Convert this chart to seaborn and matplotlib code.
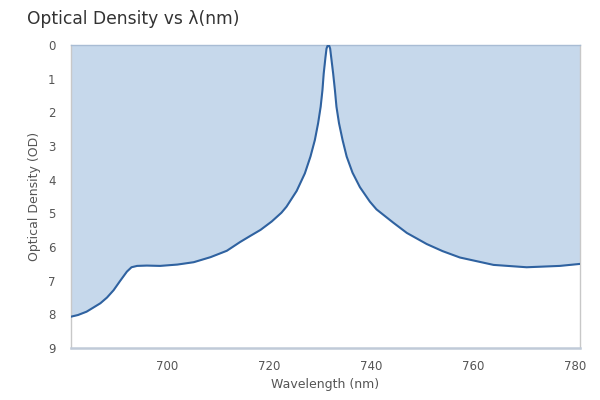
import matplotlib
matplotlib.use("Agg")
import matplotlib.pyplot as plt
import seaborn as sns
import pandas as pd

wavelength = [681.1, 682.5, 684.2, 685.5, 686.9, 688.2, 689.5, 690.8, 692.1, 693.0,
              694.1, 696.0, 698.6, 702.0, 705.2, 708.5, 711.7, 714.3, 716.5, 718.3,
              720.5, 722.4, 723.4, 725.4, 727.0, 728.1, 728.96, 729.6, 730.1, 730.45,
              730.7, 731.05, 731.25, 731.45, 731.6, 731.78, 731.96, 732.16, 732.55, 732.9,
              733.2, 733.7, 734.4, 735.2, 736.35, 737.8, 739.75, 741.05, 744.3, 747.0,
              750.9, 754.0, 757.4, 764.0, 770.5, 777.0, 781.0]
optical_density = [8.07, 8.02, 7.92, 7.80, 7.67, 7.50, 7.28, 7.00, 6.73, 6.60,
                   6.56, 6.55, 6.56, 6.52, 6.45, 6.30, 6.11, 5.85, 5.65, 5.49,
                   5.24, 4.98, 4.80, 4.33, 3.81, 3.31, 2.82, 2.32, 1.83, 1.34,
                   0.84, 0.35, 0.10, 0.02, 0.0, 0.02, 0.10, 0.35, 0.84, 1.34,
                   1.83, 2.32, 2.82, 3.31, 3.79, 4.22, 4.65, 4.88, 5.27, 5.58,
                   5.91, 6.12, 6.31, 6.53, 6.60, 6.56, 6.50]
x_ticks = [700, 720, 740, 760, 780]
y_ticks = [0, 1, 2, 3, 4, 5, 6, 7, 8, 9]

df = pd.DataFrame({"Wavelength (nm)": wavelength, "Optical Density (OD)": optical_density})

sns.set_theme(style="white")
plt.rcParams['font.family'] = ['DejaVu Sans']

fig = plt.figure(figsize=(6, 4), dpi=100)
ax = fig.add_axes([0.118, 0.13, 0.849, 0.757])

ax.fill_between(df["Wavelength (nm)"], 0, df["Optical Density (OD)"],
                color="#c6d8eb", linewidth=0, zorder=1)
sns.lineplot(data=df, x="Wavelength (nm)", y="Optical Density (OD)", ax=ax,
             color="#2f62a0", linewidth=1.5, zorder=3)

ax.set_xlim(681.1, 781)
ax.set_ylim(9, 0)
ax.set_xticks(x_ticks)
ax.set_yticks(y_ticks)

tick_col = "#c0c0c0"
ax.tick_params(axis="both", which="major", direction="out", length=8, width=1,
               color=tick_col, labelsize=8.5, labelcolor="#555555", pad=3)
ax.tick_params(axis="x", length=7, pad=2)

for side in ["left", "top", "right"]:
    ax.spines[side].set_color("#c8c8c8")
    ax.spines[side].set_linewidth(1)
ax.spines["bottom"].set_color("#c0cad8")
ax.spines["bottom"].set_linewidth(1.8)
ax.spines["top"].set_color("#a8bcd4")

ax.set_xlabel("Wavelength (nm)", fontsize=9, color="#555555", labelpad=3)
ax.set_ylabel("Optical Density (OD)", fontsize=9, color="#555555", labelpad=5)

fig.text(0.045, 0.953, "Optical Density vs λ(nm)", fontsize=12.3, color="#333333",
         ha="left", va="center")

fig.savefig("out.png", dpi=100, facecolor="white")
